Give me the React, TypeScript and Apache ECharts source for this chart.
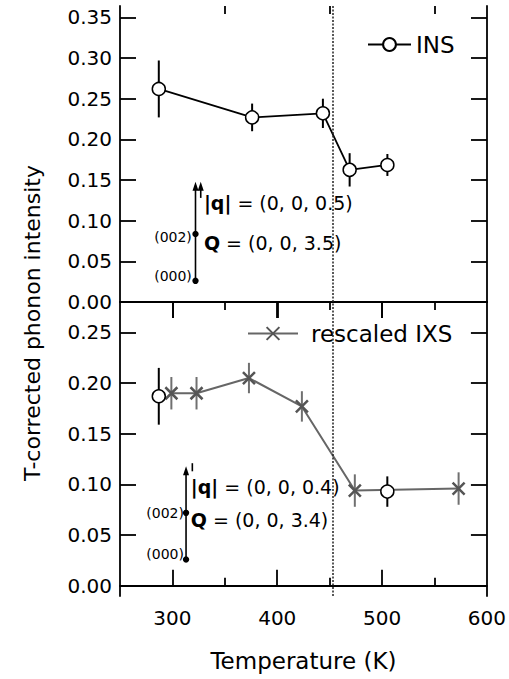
import React, { useEffect, useRef } from 'react';
import * as echarts from 'echarts';

const FONT = 'DejaVu Sans';

// ---- data ----
// Top panel: INS
const insTopT = [287, 376, 443.5, 469, 505];
const insTopI = [0.262, 0.227, 0.232, 0.1625, 0.1685];
const insTopErr = [0.035, 0.017, 0.018, 0.0205, 0.0135];

// Bottom panel: rescaled IXS and INS
const ixsT = [299, 323, 373, 423.5, 474, 573];
const ixsI = [0.19, 0.19, 0.205, 0.177, 0.094, 0.096];
const ixsErr = [0.016, 0.016, 0.015, 0.015, 0.016, 0.016];
const insBotT = [287, 505];
const insBotI = [0.187, 0.093];
const insBotErr = [0.028, 0.015];

const transitionT = 453;

// ---- ticks ----
const xMajor = [300, 400, 500];
const xMinor = [350, 450, 550];
const xLabels = [300, 400, 500, 600];
const yTopTicks = [0, 0.05, 0.1, 0.15, 0.2, 0.25, 0.3, 0.35];
const yBotTicks = [0, 0.05, 0.1, 0.15, 0.2, 0.25];

// ---- annotation (data units) ----
const annTopArrow = [322, 0.026, 0.148];
const annTopArrow2 = [327, 0.128, 0.148];
const annTopDots = [0.026, 0.0835];
const annTopText = ['|q| = (0, 0, 0.5)', 'Q = (0, 0, 3.5)'];
const annBotArrow = [313, 0.026, 0.118];
const annBotMark = [319, 0.113, 0.121];
const annBotDots = [0.026, 0.072];
const annBotText = ['|q| = (0, 0, 0.4)', 'Q = (0, 0, 3.4)'];

const BLACK = '#000';
const GRAY = '#666';

function xAx(grid: number, position: string, ticks: number[], len: number, line: boolean, labels = false, name = '') {
  return {
    type: 'value',
    gridIndex: grid,
    position,
    min: 250,
    max: 600,
    name,
    nameLocation: 'middle',
    nameGap: 53,
    nameTextStyle: { fontSize: 23, fontFamily: FONT, color: BLACK },
    axisLine: { show: line, lineStyle: { color: BLACK, width: 1.8 } },
    axisTick: {
      show: ticks.length > 0,
      inside: true,
      length: len,
      customValues: ticks,
      lineStyle: { color: BLACK, width: 1.8 },
    },
    axisLabel: labels
      ? { show: true, customValues: xLabels, fontSize: 20, fontFamily: FONT, color: BLACK, margin: 12 }
      : { show: false },
    splitLine: { show: false },
  };
}

function yAx(grid: number, position: string, min: number, max: number, ticks: number[], labels: boolean) {
  return {
    type: 'value',
    gridIndex: grid,
    position,
    min,
    max,
    axisLine: { show: true, lineStyle: { color: BLACK, width: 1.8 } },
    axisTick: { show: true, inside: true, length: 16, customValues: ticks, lineStyle: { color: BLACK, width: 1.8 } },
    axisLabel: labels
      ? {
          show: true,
          customValues: ticks,
          formatter: (v: number) => v.toFixed(2),
          fontSize: 20,
          fontFamily: FONT,
          color: BLACK,
          margin: 8,
        }
      : { show: false },
    splitLine: { show: false },
  };
}

function errSeries(xIdx: number, yIdx: number, xs: number[], ys: number[], es: number[], color: string) {
  return {
    type: 'custom',
    xAxisIndex: xIdx,
    yAxisIndex: yIdx,
    z: 1,
    silent: true,
    data: xs.map((x, i) => [x, ys[i] - es[i], ys[i] + es[i]]),
    encode: { x: 0, y: [1, 2] },
    renderItem: (_p: any, api: any) => {
      const lo = api.coord([api.value(0), api.value(1)]);
      const hi = api.coord([api.value(0), api.value(2)]);
      return {
        type: 'line',
        shape: { x1: lo[0], y1: lo[1], x2: hi[0], y2: hi[1] },
        style: { stroke: color, lineWidth: 2 },
      };
    },
  };
}

function arrowEls(api: any, a: number[], withHead: boolean) {
  const p0 = api.coord([a[0], a[1]]);
  const p1 = api.coord([a[0], a[2]]);
  const els: any[] = [
    { type: 'line', shape: { x1: p0[0], y1: p0[1], x2: p1[0], y2: p1[1] + (withHead ? 4 : 0) }, style: { stroke: BLACK, lineWidth: 1.6 } },
  ];
  if (withHead) {
    els.push({
      type: 'polygon',
      shape: { points: [[p1[0], p1[1]], [p1[0] - 3, p1[1] + 9], [p1[0] + 3, p1[1] + 9]] },
      style: { fill: BLACK },
    });
  }
  return els;
}

function textEl(api: any, x: number, y: number, text: string, align: string, size: number, bold: boolean) {
  const p = api.coord([x, y]);
  return {
    type: 'text',
    x: p[0],
    y: p[1],
    style: {
      text,
      fontSize: size,
      fontFamily: FONT,
      fill: BLACK,
      align,
      verticalAlign: 'middle',
      rich: bold
        ? { b: { fontWeight: 'bold', fontSize: size, fontFamily: FONT, fill: BLACK } }
        : undefined,
    },
  };
}

function annSeries(xIdx: number, yIdx: number, top: boolean) {
  return {
    type: 'custom',
    xAxisIndex: xIdx,
    yAxisIndex: yIdx,
    z: 5,
    silent: true,
    data: [[300, 0.1]],
    renderItem: (_p: any, api: any) => {
      const arrow = top ? annTopArrow : annBotArrow;
      const dots = top ? annTopDots : annBotDots;
      const texts = top ? annTopText : annBotText;
      const children: any[] = [...arrowEls(api, arrow, true)];
      if (top) children.push(...arrowEls(api, annTopArrow2, true));
      else children.push(...arrowEls(api, annBotMark, false));
      dots.forEach((d) => {
        const c = api.coord([arrow[0], d]);
        children.push({ type: 'circle', shape: { cx: c[0], cy: c[1], r: 3.2 }, style: { fill: BLACK } });
      });
      const lx = top ? 330 : 317.5;
      const rx = top ? 318.5 : 311;
      const qy = top ? 0.1216 : 0.098;
      const Qy = top ? 0.0725 : 0.065;
      const l2 = top ? 0.08 : 0.072;
      const l0 = top ? 0.032 : 0.031;
      children.push(textEl(api, lx, qy, '{b|' + texts[0].slice(0, 3) + '}' + texts[0].slice(3), 'left', 19, true));
      children.push(textEl(api, lx, Qy, '{b|Q}' + texts[1].slice(1), 'left', 19, true));
      children.push(textEl(api, rx, l2, '(002)', 'right', 14, false));
      children.push(textEl(api, rx, l0, '(000)', 'right', 14, false));
      return { type: 'group', children };
    },
  };
}

const xSym = 'path://M0 0L10 10M10 0L0 10';

export default function App() {
  const ref = useRef<HTMLDivElement>(null);
  useEffect(() => {
    if (!ref.current) return;
    const chart = echarts.init(ref.current, undefined, { renderer: 'svg' });
    const option: any = {
      animation: false,
      backgroundColor: '#fff',
      grid: [
        { left: 120, top: 6, width: 367, height: 296 },
        { left: 120, top: 302, width: 367, height: 294 },
      ],
      xAxis: [
        xAx(0, 'bottom', [], 0, true),
        xAx(0, 'top', xMajor, 16, true),
        xAx(0, 'top', xMinor, 8, false),
        xAx(1, 'bottom', xMajor, 16, true, true, 'Temperature (K)'),
        xAx(1, 'bottom', xMinor, 8, false),
        xAx(1, 'top', xMajor, 16, true),
        xAx(1, 'top', xMinor, 8, false),
      ],
      yAxis: [
        yAx(0, 'left', 0, 0.364, yTopTicks, true),
        yAx(0, 'right', 0, 0.364, yTopTicks, false),
        yAx(1, 'left', -0.01, 0.28, yBotTicks, true),
        yAx(1, 'right', -0.01, 0.28, yBotTicks, false),
      ],
      legend: [
        {
          data: ['INS'],
          left: 367,
          top: 33,
          padding: 0,
          itemWidth: 43,
          itemHeight: 16,
          itemGap: 0,
          textStyle: { fontSize: 23, fontFamily: FONT, color: BLACK, padding: [0, 0, 0, 0] },
        },
        {
          data: ['rescaled IXS'],
          left: 247,
          top: 322,
          padding: 0,
          itemWidth: 50,
          itemHeight: 16,
          textStyle: { fontSize: 23, fontFamily: FONT, color: BLACK, padding: [0, 0, 0, 8] },
        },
      ],
      graphic: [
        {
          type: 'text',
          x: 32,
          y: 323,
          rotation: Math.PI / 2,
          style: {
            text: 'T-corrected phonon intensity',
            fontSize: 22,
            fontFamily: FONT,
            fill: BLACK,
            align: 'center',
            verticalAlign: 'middle',
          },
        },
      ],
      series: [
        errSeries(0, 0, insTopT, insTopI, insTopErr, BLACK),
        {
          name: 'INS',
          type: 'line',
          xAxisIndex: 0,
          yAxisIndex: 0,
          z: 3,
          data: insTopT.map((t, i) => [t, insTopI[i]]),
          symbol: 'circle',
          symbolSize: 13,
          itemStyle: { color: '#fff', borderColor: BLACK, borderWidth: 1.5 },
          lineStyle: { color: BLACK, width: 1.8 },
          markLine: {
            silent: true,
            symbol: 'none',
            label: { show: false },
            lineStyle: { color: '#222', type: [2, 1.5], width: 1.5 },
            data: [{ xAxis: transitionT }],
          },
        },
        errSeries(3, 2, ixsT, ixsI, ixsErr, '#707070'),
        errSeries(3, 2, insBotT, insBotI, insBotErr, BLACK),
        {
          name: 'rescaled IXS',
          type: 'line',
          xAxisIndex: 3,
          yAxisIndex: 2,
          z: 3,
          data: ixsT.map((t, i) => [t, ixsI[i]]),
          symbol: xSym,
          symbolSize: 12,
          itemStyle: { color: 'none', borderColor: '#555', borderWidth: 2.5 },
          lineStyle: { color: GRAY, width: 2 },
          markLine: {
            silent: true,
            symbol: 'none',
            label: { show: false },
            lineStyle: { color: '#222', type: [2, 1.5], width: 1.5 },
            data: [{ xAxis: transitionT }],
          },
        },
        {
          name: 'INS-b',
          type: 'scatter',
          xAxisIndex: 3,
          yAxisIndex: 2,
          z: 4,
          data: insBotT.map((t, i) => [t, insBotI[i]]),
          symbol: 'circle',
          symbolSize: 13,
          itemStyle: { color: '#fff', borderColor: BLACK, borderWidth: 1.5, opacity: 1 },
        },
        annSeries(0, 0, true),
        annSeries(3, 2, false),
      ],
    };
    chart.setOption(option);
    return () => chart.dispose();
  }, []);
  return (
    <div
      ref={ref}
      style={{ position: 'fixed', left: 0, top: 0, width: 509, height: 679, background: '#fff' }}
    />
  );
}
